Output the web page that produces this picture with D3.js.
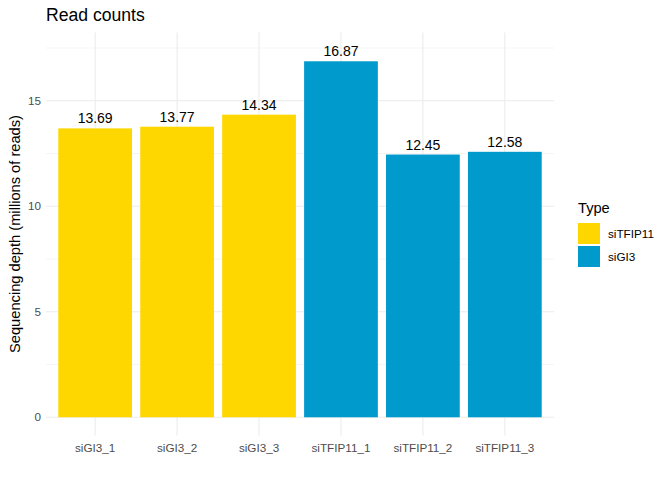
<!DOCTYPE html>
<html><head><meta charset="utf-8">
<script src="https://cdn.jsdelivr.net/npm/d3@7"></script>
<style>body{margin:0;background:#fff}svg{display:block;font-family:"Liberation Sans",Arial,sans-serif}</style>
</head><body>
<svg id="c" width="672" height="480"></svg>
<script>
const samples = ["siGI3_1","siGI3_2","siGI3_3","siTFIP11_1","siTFIP11_2","siTFIP11_3"];
const readCounts = [13.69, 13.77, 14.34, 16.87, 12.45, 12.58];
const types = ["siTFIP11","siTFIP11","siTFIP11","siGI3","siGI3","siGI3"];
const typeLevels = ["siTFIP11","siGI3"];
const typeColors = ["#FFD700","#009ACD"];
const yTicks = [0,5,10,15];
const yMinorTicks = [2.5,7.5,12.5,17.5];
const labelOffset = 0.5;

const svg = d3.select("#c");
const panel = {left:46, right:554, top:32.4, bottom:435.6};

const ymaxData = d3.max(readCounts) + labelOffset;
const expand = ymaxData * 0.05;
const y = d3.scaleLinear().domain([-expand, ymaxData + expand]).range([panel.bottom, panel.top]);
const x = d3.scalePoint().domain(samples).range([panel.left, panel.right]).padding(0.6);
const step = x.step();
const color = d3.scaleOrdinal().domain(typeLevels).range(typeColors);

// gridlines
const g = svg.append("g");
g.selectAll(".ymin").data(yMinorTicks).join("line")
  .attr("x1",panel.left).attr("x2",panel.right)
  .attr("y1",d=>y(d)).attr("y2",d=>y(d))
  .attr("stroke","#EBEBEB").attr("stroke-width",0.55);
g.selectAll(".ymaj").data(yTicks).join("line")
  .attr("x1",panel.left).attr("x2",panel.right)
  .attr("y1",d=>y(d)).attr("y2",d=>y(d))
  .attr("stroke","#EBEBEB").attr("stroke-width",1.07);
g.selectAll(".xmaj").data(samples).join("line")
  .attr("x1",d=>x(d)).attr("x2",d=>x(d))
  .attr("y1",panel.top).attr("y2",panel.bottom)
  .attr("stroke","#EBEBEB").attr("stroke-width",1.07);

// bars
const bw = step*0.9;
svg.selectAll(".bar").data(samples).join("rect")
  .attr("x",d=>x(d)-bw/2).attr("width",bw)
  .attr("y",(d,i)=>y(readCounts[i])).attr("height",(d,i)=>y(0)-y(readCounts[i]))
  .attr("fill",(d,i)=>color(types[i]));

// bar labels
svg.selectAll(".lbl").data(samples).join("text")
  .attr("x",d=>x(d)).attr("y",(d,i)=>y(readCounts[i]+labelOffset))
  .attr("dy","0.4em").attr("text-anchor","middle")
  .attr("font-size",14).attr("fill","#000")
  .text((d,i)=>readCounts[i].toFixed(2));

// y tick labels
svg.selectAll(".yt").data(yTicks).join("text")
  .attr("x",panel.left-5).attr("y",d=>y(d)).attr("dy","0.35em")
  .attr("text-anchor","end").attr("font-size",11.7).attr("fill","#4D4D4D")
  .text(d=>d);
// x tick labels
svg.selectAll(".xt").data(samples).join("text")
  .attr("x",d=>x(d)).attr("y",panel.bottom+12.5).attr("dy","0.35em")
  .attr("text-anchor","middle").attr("font-size",11.7).attr("fill","#4D4D4D")
  .text(d=>d);

// axis title
svg.append("text").attr("transform",`translate(20,${(panel.top+panel.bottom)/2}) rotate(-90)`)
  .attr("text-anchor","middle").attr("font-size",14.67).attr("fill","#000")
  .text("Sequencing depth (millions of reads)");
// title
svg.append("text").attr("x",panel.left).attr("y",21)
  .attr("font-size",17.6).attr("fill","#000").text("Read counts");

// legend
const lg = svg.append("g").attr("transform","translate(578,0)");
lg.append("text").attr("x",0).attr("y",213).attr("font-size",14.67).attr("fill","#000").text("Type");
lg.selectAll("rect").data(typeLevels).join("rect")
  .attr("x",0).attr("y",(d,i)=>223+i*23).attr("width",22).attr("height",21)
  .attr("fill",d=>color(d));
lg.selectAll(".lt").data(typeLevels).join("text")
  .attr("x",30).attr("y",(d,i)=>233.5+i*23).attr("dy","0.35em")
  .attr("font-size",11.7).attr("fill","#000").text(d=>d);
</script>
</body></html>
